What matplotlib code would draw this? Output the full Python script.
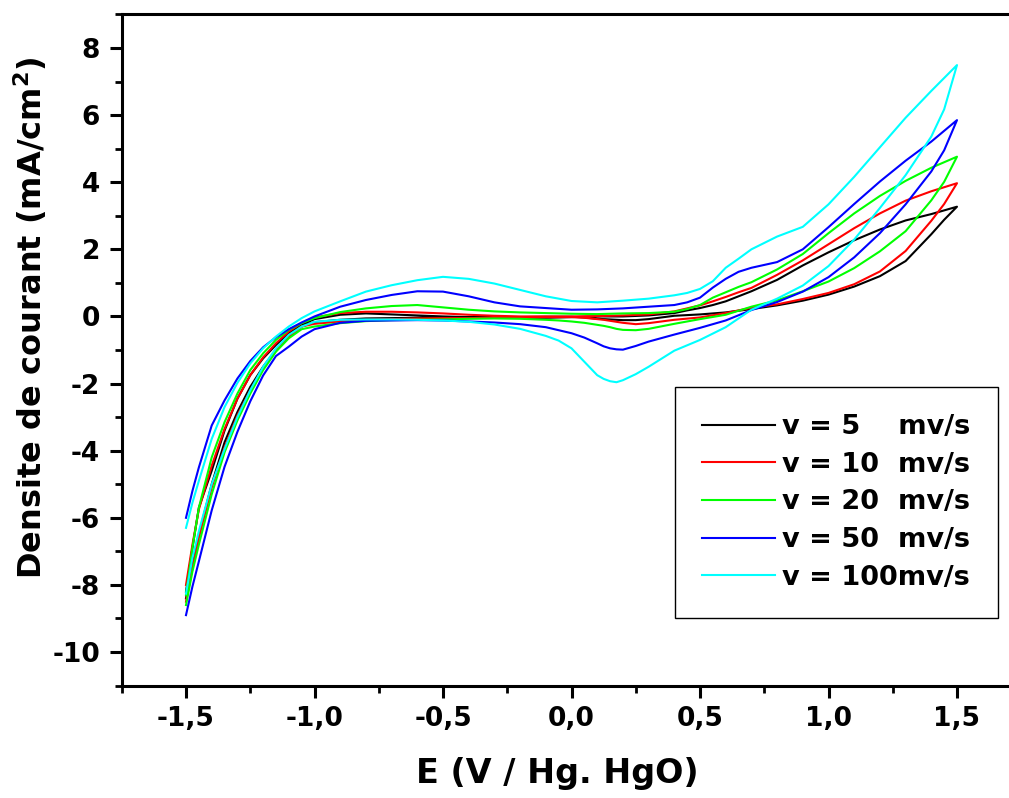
import numpy as np
import matplotlib
matplotlib.use("Agg")
import matplotlib.pyplot as plt
from matplotlib.ticker import MultipleLocator, FuncFormatter

# ------------------------------------------------------------------
# data: cyclic voltammograms, forward scan (-1.5 -> 1.5) then return
# ------------------------------------------------------------------
E_fwd = [-1.5, -1.475, -1.45, -1.4, -1.35, -1.3, -1.25, -1.2, -1.15, -1.1,
         -1.05, -1.0, -0.9, -0.8, -0.7, -0.6, -0.5, -0.4, -0.3, -0.2,
         -0.1, 0.0, 0.1, 0.2, 0.3, 0.4, 0.45, 0.5, 0.55, 0.6,
         0.65, 0.7, 0.8, 0.9, 1.0, 1.1, 1.2, 1.3, 1.4, 1.5]
E_rev = [1.5, 1.45, 1.4, 1.3, 1.2, 1.1, 1.0, 0.9, 0.8, 0.7,
         0.6, 0.5, 0.4, 0.3, 0.25, 0.2, 0.175, 0.15, 0.125, 0.1,
         0.05, 0.0, -0.05, -0.1, -0.2, -0.3, -0.4, -0.5, -0.6, -0.7,
         -0.8, -0.9, -1.0, -1.05, -1.1, -1.15, -1.2, -1.25, -1.3, -1.35,
         -1.4, -1.45, -1.475, -1.5]

j5_fwd = [-8.2, -6.9, -5.7, -4.6, -3.4, -2.45, -1.75, -1.25, -0.85, -0.5,
          -0.25, -0.08, 0.05, 0.09, 0.06, 0.03, 0.0, -0.02, -0.03, -0.04,
          -0.04, -0.02, 0.0, 0.0, 0.03, 0.1, 0.18, 0.25, 0.34, 0.45,
          0.6, 0.75, 1.09, 1.52, 1.91, 2.27, 2.59, 2.86, 3.05, 3.27]
j5_rev = [3.27, 2.88, 2.45, 1.65, 1.2, 0.89, 0.65, 0.47, 0.33, 0.22,
          0.12, 0.06, 0.02, -0.08, -0.11, -0.11, -0.10, -0.09, -0.08, -0.07,
          -0.03, -0.01, -0.01, -0.01, -0.02, -0.02, -0.03, -0.03, -0.04, -0.05,
          -0.06, -0.1, -0.17, -0.3, -0.6, -1.0, -1.5, -2.1, -2.85, -3.75,
          -5.0, -6.5, -7.4, -8.4]

j10_fwd = [-8.0, -6.8, -5.75, -4.45, -3.35, -2.45, -1.75, -1.22, -0.8, -0.45,
           -0.2, -0.03, 0.1, 0.14, 0.14, 0.12, 0.09, 0.05, 0.02, 0.0,
           0.0, 0.0, 0.01, 0.03, 0.06, 0.15, 0.24, 0.33, 0.45, 0.58,
           0.72, 0.85, 1.24, 1.67, 2.15, 2.63, 3.07, 3.45, 3.73, 3.97]
j10_rev = [3.97, 3.35, 2.85, 1.95, 1.34, 0.96, 0.7, 0.52, 0.36, 0.26,
           0.1, -0.03, -0.1, -0.2, -0.23, -0.19, -0.16, -0.13, -0.10, -0.08,
           -0.04, -0.02, -0.02, -0.02, -0.03, -0.04, -0.05, -0.05, -0.06, -0.08,
           -0.1, -0.15, -0.22, -0.3, -0.62, -1.0, -1.55, -2.2, -2.95, -3.9,
           -5.1, -6.6, -7.5, -8.5]

j20_fwd = [-8.3, -6.9, -5.7, -4.2, -3.15, -2.3, -1.6, -1.1, -0.7, -0.4,
           -0.2, -0.05, 0.13, 0.24, 0.31, 0.34, 0.27, 0.2, 0.15, 0.12,
           0.1, 0.08, 0.07, 0.09, 0.1, 0.14, 0.22, 0.34, 0.56, 0.72,
           0.88, 1.02, 1.4, 1.86, 2.48, 3.07, 3.59, 4.04, 4.43, 4.76]
j20_rev = [4.76, 4.01, 3.46, 2.54, 1.94, 1.44, 1.04, 0.75, 0.48, 0.29,
           0.05, -0.08, -0.22, -0.37, -0.41, -0.4, -0.37, -0.32, -0.28, -0.25,
           -0.19, -0.15, -0.12, -0.1, -0.07, -0.06, -0.07, -0.09, -0.1, -0.11,
           -0.14, -0.2, -0.3, -0.38, -0.65, -1.05, -1.6, -2.3, -3.1, -4.05,
           -5.3, -6.8, -7.6, -8.6]

j50_fwd = [-6.0, -5.2, -4.5, -3.25, -2.5, -1.85, -1.33, -0.92, -0.62, -0.38,
           -0.18, 0.0, 0.29, 0.49, 0.64, 0.75, 0.74, 0.6, 0.42, 0.3,
           0.25, 0.2, 0.21, 0.24, 0.29, 0.34, 0.42, 0.56, 0.86, 1.12,
           1.33, 1.45, 1.62, 2.0, 2.66, 3.35, 4.02, 4.64, 5.21, 5.85]
j50_rev = [5.85, 4.95, 4.32, 3.34, 2.48, 1.76, 1.17, 0.74, 0.43, 0.19,
           -0.12, -0.34, -0.54, -0.75, -0.88, -0.99, -0.98, -0.95, -0.89, -0.8,
           -0.63, -0.5, -0.41, -0.32, -0.23, -0.18, -0.15, -0.12, -0.11, -0.12,
           -0.13, -0.19, -0.38, -0.6, -0.9, -1.18, -1.76, -2.53, -3.44, -4.48,
           -5.78, -7.3, -8.05, -8.9]

j100_fwd = [-6.3, -5.55, -4.9, -3.65, -2.7, -1.98, -1.4, -0.95, -0.6, -0.3,
            -0.05, 0.15, 0.45, 0.74, 0.93, 1.08, 1.18, 1.12, 0.98, 0.79,
            0.6, 0.46, 0.42, 0.47, 0.53, 0.63, 0.7, 0.82, 1.05, 1.45,
            1.72, 2.0, 2.38, 2.67, 3.34, 4.16, 5.04, 5.92, 6.72, 7.49]
j100_rev = [7.49, 6.17, 5.36, 4.21, 3.23, 2.29, 1.5, 0.92, 0.53, 0.2,
            -0.32, -0.7, -1.02, -1.5, -1.72, -1.9, -1.96, -1.93, -1.86, -1.75,
            -1.35, -0.95, -0.72, -0.58, -0.37, -0.24, -0.16, -0.12, -0.1, -0.09,
            -0.09, -0.1, -0.16, -0.3, -0.55, -0.95, -1.5, -2.2, -3.0, -3.95,
            -5.0, -6.4, -7.2, -8.26]

labels = ["v = 5    mv/s", "v = 10  mv/s", "v = 20  mv/s",
          "v = 50  mv/s", "v = 100mv/s"]
colors = ["#000000", "#FF0000", "#00FF00", "#0000FF", "#00FFFF"]
curves = [(j5_fwd, j5_rev), (j10_fwd, j10_rev), (j20_fwd, j20_rev),
          (j50_fwd, j50_rev), (j100_fwd, j100_rev)]

# ------------------------------------------------------------------
# figure
# ------------------------------------------------------------------
plt.rcParams['font.family'] = ['DejaVu Sans']
plt.rcParams['font.weight'] = 'bold'
plt.rcParams['axes.unicode_minus'] = False

W, H = 1009, 798
fig = plt.figure(figsize=(W / 100, H / 100), dpi=100)
# axes x-range -1.75..1.75 runs past the right edge of the image
ax = fig.add_axes([121.75 / W, (H - 685.6) / H, 899.5 / W, 671.2 / H])

E_all = E_fwd + E_rev
for (jf, jr), c, lab in zip(curves, colors, labels):
    ax.plot(E_all, jf + jr, color=c, lw=1.5, label=lab)

ax.set_xlim(-1.75, 1.75)
ax.set_ylim(-11, 9)

ax.xaxis.set_major_locator(MultipleLocator(0.5))
ax.xaxis.set_minor_locator(MultipleLocator(0.25))
ax.yaxis.set_major_locator(MultipleLocator(2))
ax.yaxis.set_minor_locator(MultipleLocator(1))
ax.xaxis.set_major_formatter(FuncFormatter(lambda v, p: f"{v:.1f}".replace('.', ',')))
ax.yaxis.set_major_formatter(FuncFormatter(lambda v, p: f"{v:.0f}"))

ax.tick_params(which='major', direction='out', length=8.5, width=2.2,
               labelsize=19, top=False, right=False)
ax.tick_params(which='minor', direction='out', length=5, width=2.0,
               top=False, right=False)
ax.tick_params(axis='x', which='major', pad=6)
ax.tick_params(axis='y', which='major', pad=7)
for lab in ax.get_xticklabels() + ax.get_yticklabels():
    lab.set_fontweight('bold')

for s in ax.spines.values():
    s.set_linewidth(2.2)

ax.set_xlabel("E (V / Hg. HgO)", fontsize=24, fontweight='bold')
ax.set_ylabel(r"Densite de courant (mA/cm$\mathregular{^2}$)",
              fontsize=23, fontweight='bold')
ax.xaxis.set_label_coords((557 - 121.75) / 899.5, (685.6 - 757) / 671.2)
ax.yaxis.set_label_coords((49 - 121.75) / 899.5, (685.6 - 318) / 671.2)

leg = ax.legend(loc='upper left', bbox_to_anchor=(675 / W, 1 - 387 / H),
                bbox_transform=fig.transFigure, borderaxespad=0,
                prop={'size': 19.5, 'weight': 'bold'}, frameon=True,
                fancybox=False, framealpha=1, edgecolor='black',
                handlelength=2.7, handletextpad=0.26, labelspacing=0.43,
                borderpad=1.0)
leg.get_frame().set_linewidth(1.0)

fig.savefig("out.png", dpi=100)
